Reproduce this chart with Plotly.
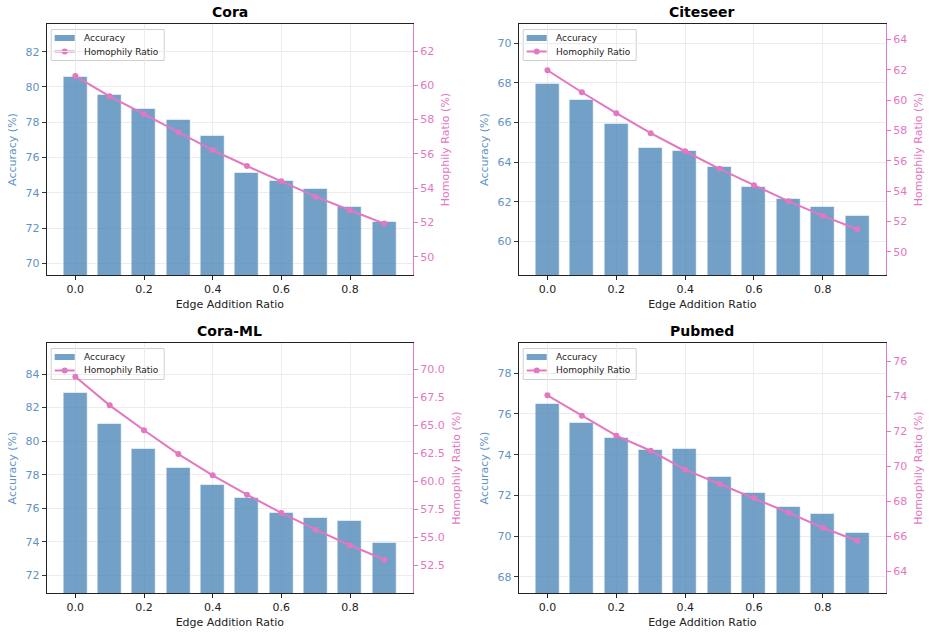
import plotly.graph_objects as go

W, H = 932, 636

ratios = [0.0, 0.1, 0.2, 0.3, 0.4, 0.5, 0.6, 0.7, 0.8, 0.9]
titles = ["Cora", "Citeseer", "Cora-ML", "Pubmed"]

acc_cora = [80.55, 79.53, 78.73, 78.13, 77.22, 75.14, 74.65, 74.20, 73.20, 72.33]
homo_cora = [60.54, 59.36, 58.32, 57.26, 56.22, 55.29, 54.40, 53.50, 52.71, 51.93]

acc_citeseer = [67.95, 67.14, 65.94, 64.70, 64.55, 63.75, 62.74, 62.12, 61.72, 61.28]
homo_citeseer = [61.98, 60.53, 59.15, 57.83, 56.64, 55.48, 54.40, 53.35, 52.38, 51.50]

acc_coraml = [82.85, 81.00, 79.55, 78.38, 77.40, 76.59, 75.70, 75.44, 75.26, 73.91]
homo_coraml = [69.31, 66.76, 64.54, 62.42, 60.52, 58.80, 57.17, 55.68, 54.29, 53.00]

acc_pubmed = [76.48, 75.57, 74.80, 74.21, 74.26, 72.88, 72.13, 71.44, 71.10, 70.15]
homo_pubmed = [74.06, 72.89, 71.75, 70.89, 69.81, 68.99, 68.19, 67.35, 66.49, 65.75]

acc_all = [acc_cora, acc_citeseer, acc_coraml, acc_pubmed]
homo_all = [homo_cora, homo_citeseer, homo_coraml, homo_pubmed]

# axis ranges (matplotlib-like autoscale)
left_ranges = [[69.34, 83.57], [58.3, 70.97], [70.95, 85.85], [67.2, 79.49]]
right_ranges = [[48.93, 63.58], [48.48, 65.03], [50.03, 72.32], [62.76, 77.05]]
right_dticks = [2, 2, 2.5, 2]
right_fmt = ["d", "d", ".1f", "d"]

BAR = "rgba(70,130,180,0.76)"
BLUE_TXT = "#5f93c4"
PINK = "#e377c2"
FONT = "DejaVu Sans"

# panel pixel boxes: (x0, x1, ytop, ybottom)
boxes = [(46.7, 413, 24, 275), (518.7, 886, 24, 275),
         (46.7, 413, 343, 593), (518.7, 886, 343, 593)]


def px(x):
    return x / W


def py(y):
    return 1 - y / H


fig = go.Figure()
layout = dict(width=W, height=H, margin=dict(l=0, r=0, t=0, b=0),
              paper_bgcolor="white", plot_bgcolor="white",
              font=dict(family=FONT, size=11, color="#222"),
              bargap=0, showlegend=False, annotations=[], shapes=[])

for i in range(4):
    x0, x1, yt, yb = boxes[i]
    xd = [px(x0), px(x1)]
    yd = [py(yb), py(yt)]
    xn = "x" if i == 0 else f"x{i+1}"
    yl = f"y{2*i+1}" if i > 0 else "y"
    yr = f"y{2*i+2}"

    fig.add_trace(go.Bar(x=ratios, y=acc_all[i], width=0.07, name="Accuracy",
                         marker=dict(color=BAR, line=dict(color="rgba(255,255,255,0.55)", width=1)),
                         xaxis=xn, yaxis=yl))
    fig.add_trace(go.Scatter(x=ratios, y=homo_all[i], mode="lines+markers", name="Homophily Ratio",
                             line=dict(color=PINK, width=2), marker=dict(color=PINK, size=6),
                             xaxis=xn, yaxis=yr))

    xa = "xaxis" if i == 0 else f"xaxis{i+1}"
    yla = "yaxis" if i == 0 else f"yaxis{2*i+1}"
    yra = f"yaxis{2*i+2}"
    layout[xa] = dict(domain=xd, anchor=yl, range=[-0.0835, 0.9835],
                      tickvals=[0.0, 0.2, 0.4, 0.6, 0.8], tickformat=".1f",
                      showgrid=True, gridcolor="#ececec", gridwidth=1,
                      showline=True, linecolor="#222", linewidth=1.2, mirror=True,
                      ticks="outside", ticklen=4, tickcolor="#222",
                      tickfont=dict(size=11, color="#222"),
                      title=dict(text="Edge Addition Ratio", font=dict(size=11, color="#222"), standoff=5),
                      zeroline=False)
    layout[yla] = dict(domain=yd, anchor=xn, range=left_ranges[i], dtick=2,
                       showgrid=True, gridcolor="#ececec", gridwidth=1,
                       showline=True, linecolor="#222", linewidth=1.2,
                       ticks="outside", ticklen=4, tickcolor="#333",
                       tickfont=dict(size=11, color=BLUE_TXT),
                       title=dict(text="Accuracy (%)", font=dict(size=11, color=BLUE_TXT), standoff=6),
                       zeroline=False)
    layout[yra] = dict(overlaying=yl, anchor=xn, side="right", range=right_ranges[i],
                       dtick=right_dticks[i], tickformat=right_fmt[i],
                       showgrid=False, showline=True, linecolor=PINK, linewidth=1.2,
                       ticks="outside", ticklen=4, tickcolor=PINK,
                       tickfont=dict(size=11, color=PINK),
                       title=dict(text="Homophily Ratio (%)", font=dict(size=11, color=PINK), standoff=8),
                       zeroline=False)

    # title
    layout["annotations"].append(dict(text=f"<b>{titles[i]}</b>", x=px((x0 + x1) / 2),
                                      y=py(yt - 12), xref="paper", yref="paper",
                                      showarrow=False, font=dict(size=14, color="#000"),
                                      xanchor="center", yanchor="middle"))

    # manual legend (matplotlib style), drawn beneath the traces like the twin-axis original
    lx, ly = x0 + 4.5, yt + 5.5
    layout["shapes"].append(dict(type="rect", xref="paper", yref="paper",
                                 x0=px(lx), x1=px(lx + 113), y0=py(ly), y1=py(ly + 31),
                                 line=dict(color="#d0d0d0", width=1),
                                 fillcolor="rgba(255,255,255,0.85)", layer="between"))
    layout["shapes"].append(dict(type="rect", xref="paper", yref="paper",
                                 x0=px(lx + 3.5), x1=px(lx + 23.5), y0=py(ly + 5.5), y1=py(ly + 11.5),
                                 line=dict(width=0), fillcolor=BAR, layer="between"))
    layout["shapes"].append(dict(type="line", xref="paper", yref="paper",
                                 x0=px(lx + 3.5), x1=px(lx + 23.5), y0=py(ly + 22), y1=py(ly + 22),
                                 line=dict(color=PINK, width=2), layer="between"))
    layout["shapes"].append(dict(type="circle", xref="paper", yref="paper",
                                 x0=px(lx + 10.5), x1=px(lx + 16.5), y0=py(ly + 19), y1=py(ly + 25),
                                 line=dict(width=0), fillcolor=PINK, layer="between"))
    layout["annotations"].append(dict(text="Accuracy", x=px(lx + 31), y=py(ly + 8.5),
                                      xref="paper", yref="paper", showarrow=False,
                                      xanchor="left", yanchor="middle",
                                      font=dict(size=9, color="#222")))
    layout["annotations"].append(dict(text="Homophily Ratio", x=px(lx + 31), y=py(ly + 22),
                                      xref="paper", yref="paper", showarrow=False,
                                      xanchor="left", yanchor="middle",
                                      font=dict(size=9, color="#222")))

fig.update_layout(**layout)
fig.write_html("out.html")
